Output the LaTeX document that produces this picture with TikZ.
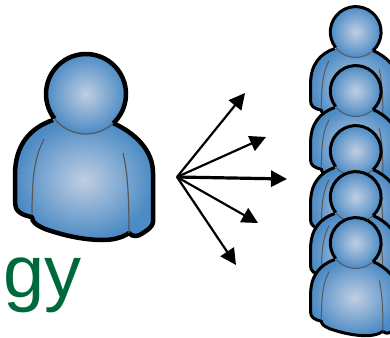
\documentclass[tikz,border=0pt]{standalone}
\usepackage{fontspec}
\setmainfont{Liberation Sans}
\usetikzlibrary{arrows.meta}
\definecolor{txtgreen}{RGB}{0,105,60}
\definecolor{blueedge}{RGB}{76,139,197}
\definecolor{bluecore}{RGB}{192,206,226}
\definecolor{seam}{RGB}{88,88,88}
\tikzset{
  bodyfill/.style={inner color=bluecore,outer color=blueedge},
  spoke/.style={line width=2.2pt,-{Triangle[length=16pt,width=16pt]}},
  personline/.style={line join=round,line width=#1}
}
% #1 x, #2 y, #3 scale, #4 outline width, #5 seam width
\newcommand{\personfig}[5]{%
\begin{scope}[shift={(#1-86*#3,#2-94*#3)},x=#3 pt,y=-#3 pt]
  \path[bodyfill] (53,120) .. controls (30,128) and (15,145) .. (15,175) -- (15,203)
    .. controls (15,210) and (20,215) .. (32,217) .. controls (32,222) and (36,225) .. (45,229)
    .. controls (65,236) and (85,240) .. (103,240) .. controls (112,240) and (122,238) .. (129,233)
    .. controls (132,237) and (138,237) .. (143,233) .. controls (148,230) and (153,226) .. (153,222)
    -- (153,173) .. controls (153,150) and (135,133) .. (113,123) -- cycle;
  \draw[personline=#4] (53,120) .. controls (30,128) and (15,145) .. (15,175) -- (15,203)
    .. controls (15,210) and (20,215) .. (32,217) .. controls (32,222) and (36,225) .. (45,229)
    .. controls (65,236) and (85,240) .. (103,240) .. controls (112,240) and (122,238) .. (129,233)
    .. controls (132,237) and (138,237) .. (143,233) .. controls (148,230) and (153,226) .. (153,222)
    -- (153,173) .. controls (153,150) and (135,133) .. (113,123);
  \draw[seam,line width=#5] (44,139) .. controls (36,155) and (32,170) .. (32,215);
  \draw[seam,line width=#5] (123,153) .. controls (127,170) and (129,190) .. (129,233);
  \shade[bodyfill] (86,94) circle[radius=40];
  \draw[seam,line width=#5] (86,94) ++(47:40) arc[start angle=47,end angle=142,radius=40];
  \draw[black,line width=#4] (86,94) ++(142:40) arc[start angle=142,end angle=407,radius=40];
\end{scope}}
\begin{document}
\begin{tikzpicture}[x=1pt,y=-1pt]
  \clip (0,0) rectangle (390,337);
  \fill[white] (0,0) rectangle (390,337);
  \node[anchor=base east,inner sep=0pt,text=txtgreen,font=\fontsize{74}{74}\selectfont] (word) at (82,297) {gy};
  \personfig{86}{94}{1}{4.5pt}{1.2pt}
  \personfig{355.7}{32}{0.635}{3pt}{1pt}
  \personfig{355.7}{91}{0.635}{3pt}{1pt}
  \personfig{355.7}{151}{0.635}{3pt}{1pt}
  \personfig{355.7}{197}{0.635}{3pt}{1pt}
  \personfig{355.7}{243}{0.635}{3pt}{1pt}
  \coordinate (hub) at (177,177);
  \coordinate (t1) at (245,93);
  \coordinate (t2) at (266,137);
  \coordinate (t3) at (287,179);
  \coordinate (t4) at (258,223);
  \coordinate (t5) at (236,265);
  \draw[spoke] (hub) -- (t1);
  \draw[spoke] (hub) -- (t2);
  \draw[spoke,line width=3.2pt] (hub) -- (t3);
  \draw[spoke] (hub) -- (t4);
  \draw[spoke] (hub) -- (t5);
\end{tikzpicture}
\end{document}
